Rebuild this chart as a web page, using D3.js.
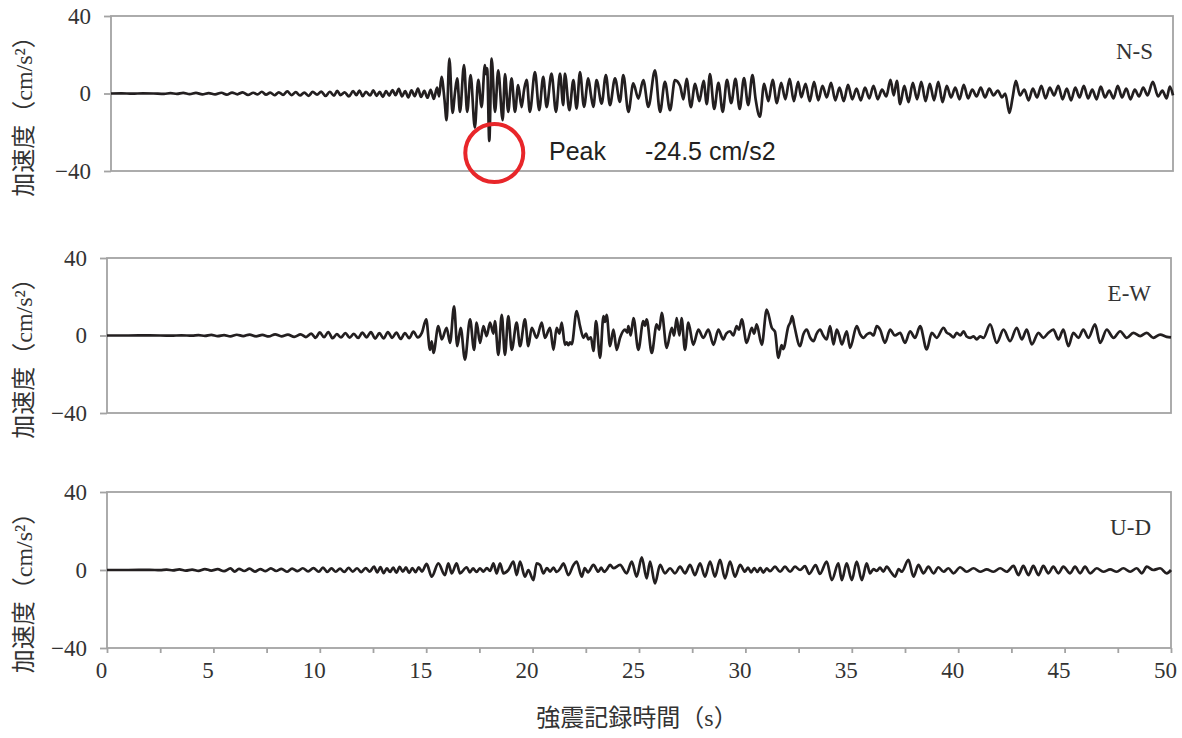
<!DOCTYPE html>
<html>
<head>
<meta charset="utf-8">
<script src="https://cdn.jsdelivr.net/npm/d3@7"></script>
<style>
  body { margin: 0; background: #fff; }
</style>
</head>
<body>
<svg id="chart" width="1182" height="738"></svg>
<script>
// acceleration records: [time (s), accel (cm/s2)]
var nsWave = [[0,0],[0.5,0.1],[1,-0.1],[1.5,0.1],[2,0],[2.5,-0.2],[2.8,0.2],[3.1,-0.2],[3.4,0.3],[3.7,-0.3],[4.0,0.3],[4.3,-0.4],[4.6,0.2],[4.9,-0.5],[5.2,0.4],[5.45,-0.6],[5.7,0.5],[5.95,-0.4],[6.2,0.6],[6.45,-0.7],[6.7,0.4],[6.9,-0.5],[7.1,0.9],[7.3,-0.6],[7.5,0.5],[7.7,-0.9],[7.9,0.6],[8.1,-0.7],[8.3,1.1],[8.5,-0.8],[8.7,0.7],[8.9,-1.0],[9.1,0.5],[9.3,-1.2],[9.5,0.8],[9.7,-0.6],[9.9,1.0],[10.1,-1.3],[10.3,0.9],[10.5,-1.1],[10.65,1.4],[10.8,-0.8],[11.0,0.6],[11.2,-1.5],[11.4,1.2],[11.55,-0.9],[11.7,1.5],[11.85,-1.4],[12.0,0.9],[12.2,-1.0],[12.35,1.6],[12.5,-1.2],[12.65,0.8],[12.8,-1.7],[12.95,1.3],[13.1,-1.1],[13.25,1.8],[13.4,-0.9],[13.55,2.4],[13.7,-1.5],[13.85,1.2],[14.0,-2.0],[14.15,1.6],[14.3,-1.4],[14.45,2.5],[14.6,-1.8],[14.75,1.4],[14.9,-2.2],[15.05,1.9],[15.2,-2.8],[15.35,3.0],[15.45,-1.5],[15.56,8.6],[15.7,-3],[15.8,-13.8],[15.93,18],[16.08,-10],[16.2,1],[16.3,7.8],[16.43,-9.5],[16.62,14.7],[16.77,-9.5],[16.93,9.5],[17.13,-17.6],[17.29,7],[17.45,-7],[17.6,14.7],[17.66,10],[17.71,13],[17.81,-24.5],[17.92,18],[18.08,-9.5],[18.23,12],[18.44,-13.8],[18.55,10],[18.7,-9.5],[18.86,7.8],[19.02,-9.5],[19.17,4.3],[19.33,-7],[19.45,2],[19.57,7],[19.72,-9.5],[19.96,11],[20.16,-8.6],[20.35,8.6],[20.51,-7],[20.74,10.3],[20.95,-9.5],[21.14,10.3],[21.29,-6],[21.37,10.3],[21.58,-8.6],[21.77,6.9],[21.92,-7.8],[22.08,11],[22.27,-6.9],[22.47,7.8],[22.6,-1],[22.71,-6.9],[22.86,6.9],[23.1,-5.2],[23.3,9.5],[23.49,-6],[23.73,7.8],[23.96,-4.3],[24.12,9.5],[24.36,-9.5],[24.59,5.2],[24.83,-2.6],[25.06,6.9],[25.3,-6.9],[25.61,12],[25.85,-9.5],[26.08,6],[26.32,-8.6],[26.55,6.9],[26.79,4],[26.95,-3],[27.1,7.5],[27.3,-7],[27.5,5],[27.7,-4],[27.9,6.5],[28.05,-5.5],[28.2,10],[28.4,-8],[28.6,5.5],[28.8,-9.5],[29.0,7],[29.2,-5],[29.4,7.5],[29.6,-8],[29.8,8],[30.0,-6],[30.2,9.5],[30.35,-3],[30.55,-12],[30.75,5],[30.95,-4],[31.15,7],[31.35,-5],[31.55,5.5],[31.75,-3],[31.95,7.5],[32.15,-4],[32.35,6],[32.5,-2],[32.7,5],[32.9,-4],[33.1,6],[33.3,-3.5],[33.5,4],[33.7,-2],[33.9,5.5],[34.1,-3.5],[34.3,3],[34.5,-4],[34.7,4.5],[34.9,-3],[35.1,2.5],[35.3,-3.5],[35.5,3],[35.7,-2.5],[35.9,4],[36.1,-3],[36.3,2],[36.5,-1.5],[36.7,7],[36.85,-1],[37.0,6.5],[37.15,-5.5],[37.35,4],[37.55,-4.5],[37.75,5.5],[37.95,-3],[38.15,6],[38.35,-4],[38.55,5],[38.75,-3.5],[38.95,6],[39.15,-4.5],[39.35,4],[39.55,-2],[39.75,3],[39.95,-3],[40.15,4.5],[40.35,-2.5],[40.55,2],[40.75,-1.5],[40.95,3],[41.15,-2],[41.35,2.5],[41.55,-1],[41.75,1.5],[41.95,-2],[42.1,0],[42.3,-10],[42.45,-2],[42.6,6.5],[42.8,-1],[43.0,2],[43.2,-3.5],[43.4,2.5],[43.6,-2],[43.8,4],[44.0,-2.5],[44.2,3],[44.4,-1],[44.6,4],[44.8,-3],[45.0,2.5],[45.2,-3.5],[45.4,3],[45.6,-2],[45.8,4],[46.0,-2.5],[46.2,2],[46.4,-3],[46.6,3.5],[46.8,-2],[47.0,1.5],[47.2,-2.5],[47.4,4],[47.6,-2],[47.8,2.5],[48.0,-3],[48.2,2],[48.4,-1.5],[48.6,3],[48.8,-1],[49.05,6],[49.3,-1.5],[49.5,1.5],[49.7,-2.5],[49.85,3.5],[50,-1]];

var ewWave = [[0,0],[1,0],[2,0.1],[3,-0.1],[3.5,0.1],[4,-0.1],[4.3,0.2],[4.6,-0.2],[4.9,0.3],[5.2,-0.3],[5.5,0.2],[5.8,-0.4],[6.1,0.4],[6.4,-0.3],[6.7,0.5],[7.0,-0.4],[7.3,0.3],[7.6,-0.5],[7.9,0.6],[8.2,-0.4],[8.5,0.5],[8.8,-0.7],[9.1,0.6],[9.35,-0.8],[9.6,1.0],[9.8,-1.2],[10.0,1.6],[10.2,-0.9],[10.4,1.8],[10.6,-1.4],[10.8,0.7],[11.0,-1.0],[11.2,1.3],[11.4,-1.1],[11.6,0.8],[11.8,-1.3],[12.0,1.5],[12.2,-1.0],[12.4,1.8],[12.6,-1.6],[12.8,1.2],[13.0,-1.5],[13.2,1.8],[13.4,-1.2],[13.6,1.5],[13.8,-1.8],[14.0,1.2],[14.2,-1.4],[14.4,2.0],[14.6,-1.0],[14.8,1.5],[15.0,8.3],[15.18,-7.4],[15.26,-3],[15.34,-9],[15.57,4.8],[15.73,-2],[15.96,4],[16.12,-3.8],[16.31,15],[16.46,-5.5],[16.62,4],[16.82,-12.4],[17.06,8.3],[17.25,-7.4],[17.37,6.6],[17.53,-3.8],[17.69,4.8],[17.84,-0.3],[18.0,6.6],[18.16,1],[18.23,7.4],[18.39,-10],[18.55,10.7],[18.7,-10],[18.86,10],[19.02,-7.4],[19.25,6.6],[19.41,-5.5],[19.64,8.3],[19.8,-5.5],[19.96,4],[20.19,-1.2],[20.43,6.6],[20.58,-1.2],[20.82,4],[20.98,-7.4],[21.13,4],[21.26,1],[21.37,6.6],[21.52,-4.8],[21.6,-3.5],[21.68,-5],[21.76,-3.5],[21.84,-4.5],[22.07,12.6],[22.23,4.8],[22.39,-1.2],[22.51,1],[22.62,-2],[22.74,-1],[22.86,-8],[22.98,7.4],[23.17,-11.5],[23.33,10],[23.4,7],[23.48,10.7],[23.64,-5.5],[23.8,3],[23.95,-7.4],[24.11,-1.2],[24.34,3],[24.45,1.5],[24.5,4.8],[24.61,0],[24.74,9],[24.97,-7.4],[25.2,7.4],[25.28,5],[25.36,8.3],[25.6,-9],[25.83,5.7],[25.95,3],[26.07,11.7],[26.3,-6.4],[26.54,4],[26.65,0],[26.77,9],[26.9,0],[27.0,9],[27.16,-7.4],[27.32,6.6],[27.55,-4.8],[27.79,3],[28.02,-1.2],[28.26,3],[28.5,-4.8],[28.73,3],[28.96,-2],[29.1,1],[29.28,2.2],[29.43,0],[29.59,4.8],[29.7,3],[29.83,8.3],[30.06,-3.8],[30.3,4],[30.41,1],[30.53,5.7],[30.77,-4.8],[31.0,13.4],[31.24,4],[31.39,2],[31.55,-11.5],[31.7,-5],[31.78,-7],[32.02,4.8],[32.12,7],[32.2,10],[32.3,5],[32.57,-5.5],[32.72,0.5],[32.88,3],[33.04,-1],[33.2,-2.9],[33.35,1],[33.51,3],[33.66,0],[33.82,-2],[33.98,4.8],[34.14,-4.6],[34.29,3],[34.41,0],[34.53,-4.6],[34.76,2.2],[34.92,-6.4],[35.23,4.8],[35.4,0.5],[35.55,-1.2],[35.7,0.5],[35.86,1.4],[36.02,0],[36.17,4.8],[36.33,3],[36.56,-3.8],[36.8,3],[37.03,0],[37.27,1.4],[37.5,-3.8],[37.74,2.2],[37.97,-1.2],[38.21,4.8],[38.52,-7.2],[38.76,1.4],[38.99,-1.2],[39.31,4],[39.46,1.5],[39.62,0.5],[39.78,-1],[39.93,1.4],[40.1,0],[40.25,2.2],[40.4,-0.5],[40.56,-1.2],[40.72,-0.5],[40.87,-2],[41.03,-0.5],[41.19,-1.2],[41.5,5.7],[41.81,-3.8],[42.13,3],[42.44,-2.9],[42.75,4],[42.99,-2],[43.22,3],[43.46,-4.6],[43.77,1.4],[44.0,-1.2],[44.24,1.4],[44.47,3],[44.71,-2],[44.94,3],[45.18,-5.5],[45.41,1.4],[45.65,-1.2],[45.88,3],[46.12,-1.2],[46.43,5.7],[46.67,-3.8],[46.98,3],[47.3,-1.2],[47.61,2.2],[47.92,-1.2],[48.23,1.4],[48.55,-0.3],[48.86,1.4],[49.17,-1.2],[49.49,0.5],[49.8,-0.7],[50,-1]];

var udWave = [[0,0],[1,0],[2,0.1],[2.5,-0.1],[2.8,0.2],[3.1,-0.2],[3.4,0.3],[3.7,-0.3],[4.0,0.2],[4.3,-0.4],[4.6,0.5],[4.9,-0.3],[5.2,0.4],[5.5,-0.6],[5.8,0.8],[6.0,-0.8],[6.2,0.6],[6.45,-0.5],[6.7,0.7],[6.95,-0.8],[7.2,0.5],[7.45,-0.6],[7.7,0.8],[7.95,-0.5],[8.2,0.6],[8.45,-0.9],[8.7,0.7],[8.95,-0.6],[9.2,0.9],[9.45,-0.7],[9.7,1.0],[9.95,-0.9],[10.15,1.2],[10.35,-1.0],[10.55,0.8],[10.75,-0.9],[10.95,0.7],[11.15,-1.0],[11.35,1.1],[11.55,-0.8],[11.75,0.9],[11.95,-1.1],[12.15,1.0],[12.35,-0.8],[12.55,1.8],[12.7,-1.2],[12.85,1.5],[13.0,-1.6],[13.15,0.8],[13.3,-1.0],[13.45,1.2],[13.6,-1.4],[13.75,1.6],[13.9,-0.9],[14.05,1.3],[14.2,-1.5],[14.35,1.0],[14.5,-1.1],[14.65,1.4],[14.8,-0.8],[15.02,3.1],[15.26,-3.4],[15.57,3.4],[15.88,-2.6],[16.04,3.4],[16.2,-1.7],[16.43,3.4],[16.59,-1.7],[16.9,1.4],[17.05,-1.2],[17.2,0.8],[17.37,-1.0],[17.52,0.9],[17.69,-0.8],[17.85,1.0],[18.0,-0.5],[18.16,3.4],[18.31,-1.7],[18.47,3.4],[18.63,-1.7],[18.86,0],[19.1,4.3],[19.25,-2.6],[19.41,4.3],[19.64,-3.4],[19.8,0],[20.04,-5.2],[20.19,3.4],[20.35,2.6],[20.51,-1.7],[20.67,1.0],[20.82,-0.8],[20.98,1.2],[21.13,-1.0],[21.3,0.8],[21.45,3.4],[21.68,-2.6],[21.92,2.6],[22.07,4.3],[22.31,-3.4],[22.45,1],[22.6,-1.2],[22.86,2.6],[23.09,-0.9],[23.22,1.2],[23.36,-1],[23.5,0.5],[23.64,2.6],[23.8,0.9],[24.11,2.6],[24.42,-1.7],[24.66,4.3],[24.89,-3.4],[25.13,6.5],[25.36,-4.3],[25.52,4.3],[25.75,-6.9],[25.99,2.6],[26.22,-1.7],[26.46,0.9],[26.69,-1.7],[26.93,1.7],[27.16,-1.7],[27.4,2.6],[27.63,-2.6],[27.87,3.4],[28.1,-3.4],[28.34,4.3],[28.57,-3.4],[28.81,5.2],[29.04,-4.3],[29.28,4.3],[29.51,-3.4],[29.75,2.6],[29.98,-0.9],[30.12,1.2],[30.27,-1.2],[30.42,1.0],[30.56,-1.0],[30.7,1.1],[30.84,-1.3],[31.0,0.8],[31.16,-0.6],[31.39,1.7],[31.63,-0.9],[31.86,1.7],[32.1,-0.9],[32.33,1.7],[32.57,0],[32.8,2],[33.0,-2],[33.3,2.5],[33.5,-2],[33.82,4.3],[34.06,-5.2],[34.37,3.4],[34.53,-5.2],[34.76,3.4],[35.0,-5.2],[35.23,4.3],[35.47,-5.2],[35.7,3.4],[35.86,-1.7],[36.02,0.5],[36.17,-0.5],[36.33,1.2],[36.48,-0.9],[36.64,1.7],[36.85,-1.2],[37.03,-3.4],[37.2,0.5],[37.35,-0.9],[37.66,5.2],[37.9,-3.4],[38.13,2.6],[38.37,-1.7],[38.6,1.7],[38.84,-1.7],[39.07,1.4],[39.31,-0.9],[39.54,0.9],[39.78,-1.7],[40.09,1.4],[40.4,-0.9],[40.72,0.9],[41.03,-0.9],[41.34,0.3],[41.66,-0.9],[41.97,0.9],[42.28,-0.9],[42.6,2.1],[42.83,-2.6],[43.06,2.1],[43.3,-2.6],[43.53,2.1],[43.77,-2.6],[44.0,2.1],[44.24,-1.7],[44.47,1.7],[44.71,-1.7],[44.94,1.7],[45.26,-1.7],[45.49,1.7],[45.73,-1.7],[45.96,1.7],[46.2,-1.7],[46.51,0.9],[46.82,-0.9],[47.14,0.3],[47.45,-0.9],[47.76,0.9],[48.08,-0.9],[48.39,0.9],[48.63,-1.7],[48.86,1.7],[49.17,0],[49.49,0.9],[49.8,-1.7],[50,0]];

var components = ['N-S', 'E-W', 'U-D'];
var yTickValues = [40, 0, -40];
var xTickValues = [0, 5, 10, 15, 20, 25, 30, 35, 40, 45, 50];
var peakTime = 17.81;
var peakLabel = 'Peak', peakValue = '-24.5 cm/s2';

var svg = d3.select('#chart');
var serif = '"Liberation Serif", "Noto Sans CJK JP", serif';

var panels = [
    {name: components[0], data: nsWave, left: 111, right: 1173, top: 16, bottom: 171},
    {name: components[1], data: ewWave, left: 107, right: 1171, top: 258, bottom: 413},
    {name: components[2], data: udWave, left: 107, right: 1171, top: 492, bottom: 648}
];

panels.forEach(function(p, i){
    var x = d3.scaleLinear().domain([0, 50]).range([p.left, p.right]);
    var y = d3.scaleLinear().domain([-40, 40]).range([p.bottom, p.top]);
    p.x = x; p.y = y;

    svg.append('rect')
        .attr('x', p.left).attr('y', p.top)
        .attr('width', p.right - p.left).attr('height', p.bottom - p.top)
        .attr('fill', 'none')
        .attr('stroke', '#a3a3a3')
        .attr('stroke-width', 1.8);

    var ya = svg.append('g')
        .attr('transform', 'translate(' + p.left + ',0)')
        .call(d3.axisLeft(y).tickValues(yTickValues).tickSize(7).tickPadding(13)
            .tickFormat(function(d){ return d < 0 ? '\u2212' + Math.abs(d) : d; }));
    ya.select('.domain').remove();
    ya.selectAll('line').attr('stroke', '#a3a3a3').attr('stroke-width', 1.8);
    ya.selectAll('text')
        .attr('font-family', serif)
        .attr('font-size', 23)
        .attr('fill', '#333');

    if (i == 2) {
        var xa = svg.append('g')
            .attr('transform', 'translate(0,' + p.bottom + ')')
            .call(d3.axisBottom(x).tickValues(d3.range(0, 50.01, 2.5)).tickSize(5).tickPadding(9)
                .tickFormat(function(d){ return xTickValues.indexOf(d) >= 0 ? d : ''; }));
        xa.select('.domain').remove();
        xa.selectAll('line').attr('stroke', '#a3a3a3').attr('stroke-width', 1.8);
        xa.selectAll('text')
            .attr('dx', -6)
            .attr('font-family', serif)
            .attr('font-size', 23)
            .attr('fill', '#333');
    }

    var line = d3.line()
        .x(function(d){ return x(d[0]); })
        .y(function(d){ return y(d[1]); })
        .curve(d3.curveMonotoneX);

    svg.append('path')
        .datum(p.data)
        .attr('d', line)
        .attr('fill', 'none')
        .attr('stroke', '#231f20')
        .attr('stroke-width', 2.7)
        .attr('stroke-linejoin', 'round');

    svg.append('text')
        .attr('x', p.right - 20)
        .attr('y', p.top + 43)
        .attr('text-anchor', 'end')
        .attr('font-family', serif)
        .attr('font-size', 23)
        .attr('fill', '#333')
        .text(p.name);

    var cy = (p.top + p.bottom) / 2 + 17;
    svg.append('text')
        .attr('transform', 'translate(24,' + cy + ') rotate(-90)')
        .attr('text-anchor', 'middle')
        .attr('dominant-baseline', 'central')
        .attr('font-family', serif)
        .attr('font-size', 24)
        .attr('fill', '#333')
        .text('加速度（cm/s²）');
});

// x axis title
svg.append('text')
    .attr('x', 637)
    .attr('y', 726)
    .attr('text-anchor', 'middle')
    .attr('font-family', serif)
    .attr('font-size', 24)
    .attr('fill', '#333')
    .text('強震記録時間（s）');

// peak annotation on the N-S record
var ns = panels[0];
var peak = nsWave.filter(function(d){ return d[0] == peakTime; })[0];
svg.append('circle')
    .attr('cx', ns.x(peak[0]) + 5)
    .attr('cy', ns.y(peak[1]) + 12)
    .attr('r', 29)
    .attr('fill', 'none')
    .attr('stroke', '#e8262a')
    .attr('stroke-width', 4);
svg.append('text')
    .attr('x', 549).attr('y', 160)
    .attr('font-family', '"Liberation Sans", sans-serif')
    .attr('font-size', 25)
    .attr('fill', '#231f20')
    .text(peakLabel);
svg.append('text')
    .attr('x', 645).attr('y', 160)
    .attr('font-family', '"Liberation Sans", sans-serif')
    .attr('font-size', 25)
    .attr('fill', '#231f20')
    .text(peakValue);
</script>
</body>
</html>
